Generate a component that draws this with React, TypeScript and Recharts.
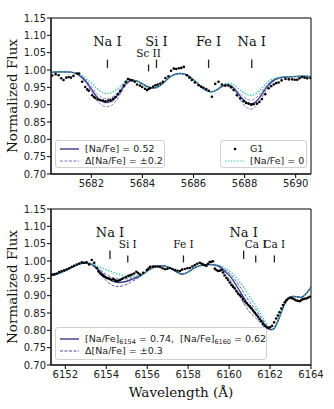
import { ComposedChart, Line, Scatter, XAxis, YAxis, ReferenceLine, ReferenceDot, ReferenceArea } from 'recharts';

// ---- top panel: Na I 5682/5688 ----
const topWave = [5680.4, 5680.8, 5681.2, 5681.5, 5681.8, 5682.0, 5682.2, 5682.4, 5682.6, 5682.8, 5683.0, 5683.2, 5683.4, 5683.6, 5683.8, 5684.0, 5684.2, 5684.4, 5684.6, 5684.8, 5685.0, 5685.2, 5685.45, 5685.7, 5685.9, 5686.1, 5686.3, 5686.5, 5686.7, 5686.9, 5687.1, 5687.3, 5687.5, 5687.7, 5687.9, 5688.1, 5688.25, 5688.4, 5688.6, 5688.8, 5689.0, 5689.2, 5689.5, 5689.9, 5690.3, 5690.6];
const topBest = [0.993, 0.995, 0.994, 0.986, 0.966, 0.945, 0.924, 0.911, 0.906, 0.910, 0.925, 0.946, 0.963, 0.970, 0.968, 0.960, 0.952, 0.948, 0.951, 0.961, 0.975, 0.985, 0.990, 0.987, 0.978, 0.965, 0.951, 0.941, 0.937, 0.942, 0.952, 0.957, 0.952, 0.936, 0.918, 0.905, 0.902, 0.906, 0.922, 0.944, 0.962, 0.973, 0.979, 0.981, 0.982, 0.981];
const topHi = [0.993, 0.995, 0.994, 0.985, 0.962, 0.938, 0.914, 0.899, 0.894, 0.898, 0.915, 0.939, 0.959, 0.969, 0.968, 0.960, 0.952, 0.948, 0.951, 0.961, 0.975, 0.985, 0.990, 0.987, 0.978, 0.965, 0.951, 0.941, 0.937, 0.942, 0.951, 0.955, 0.949, 0.929, 0.906, 0.891, 0.887, 0.892, 0.911, 0.936, 0.957, 0.971, 0.978, 0.981, 0.982, 0.981];
const topLo = [0.993, 0.995, 0.994, 0.987, 0.970, 0.952, 0.933, 0.921, 0.917, 0.921, 0.934, 0.952, 0.966, 0.971, 0.968, 0.960, 0.952, 0.948, 0.951, 0.961, 0.975, 0.985, 0.990, 0.987, 0.978, 0.965, 0.951, 0.941, 0.937, 0.942, 0.953, 0.959, 0.955, 0.941, 0.927, 0.915, 0.913, 0.917, 0.931, 0.950, 0.966, 0.975, 0.980, 0.981, 0.982, 0.981];
const topZero = [0.993, 0.995, 0.994, 0.989, 0.975, 0.963, 0.948, 0.937, 0.932, 0.935, 0.945, 0.958, 0.969, 0.972, 0.968, 0.960, 0.952, 0.948, 0.951, 0.961, 0.975, 0.985, 0.990, 0.987, 0.978, 0.965, 0.951, 0.941, 0.937, 0.942, 0.955, 0.962, 0.960, 0.950, 0.938, 0.929, 0.927, 0.930, 0.942, 0.958, 0.970, 0.976, 0.980, 0.981, 0.982, 0.981];

const topObsWave = [5680.47, 5680.6, 5680.72, 5680.82, 5680.91, 5681.02, 5681.11, 5681.2, 5681.3, 5681.44, 5681.52, 5681.64, 5681.76, 5681.84, 5681.9, 5682.03, 5682.1, 5682.16, 5682.25, 5682.35, 5682.45, 5682.55, 5682.65, 5682.75, 5682.85, 5682.94, 5683.04, 5683.14, 5683.27, 5683.35, 5683.43, 5683.52, 5683.6, 5683.7, 5683.79, 5683.9, 5683.99, 5684.1, 5684.18, 5684.25, 5684.31, 5684.42, 5684.51, 5684.6, 5684.7, 5684.8, 5684.9, 5685.02, 5685.12, 5685.23, 5685.32, 5685.42, 5685.52, 5685.62, 5685.74, 5685.84, 5685.93, 5686.05, 5686.2, 5686.3, 5686.39, 5686.5, 5686.6, 5686.72, 5686.85, 5686.98, 5687.11, 5687.24, 5687.37, 5687.47, 5687.57, 5687.7, 5687.83, 5687.96, 5688.06, 5688.16, 5688.26, 5688.35, 5688.48, 5688.58, 5688.68, 5688.81, 5688.94, 5689.04, 5689.14, 5689.23, 5689.33, 5689.45, 5689.6, 5689.73, 5689.86, 5689.96, 5690.06, 5690.15, 5690.25, 5690.35, 5690.45, 5690.58];
const topObsFlux = [0.984, 0.988, 0.985, 0.976, 0.971, 0.978, 0.980, 0.978, 0.983, 0.990, 0.990, 0.966, 0.951, 0.944, 0.940, 0.927, 0.922, 0.919, 0.915, 0.913, 0.912, 0.910, 0.912, 0.913, 0.917, 0.922, 0.930, 0.939, 0.955, 0.966, 0.974, 0.972, 0.970, 0.966, 0.958, 0.955, 0.951, 0.946, 0.942, 0.945, 0.948, 0.952, 0.956, 0.958, 0.961, 0.966, 0.977, 0.982, 0.998, 1.004, 1.003, 1.005, 1.006, 1.009, 0.985, 0.978, 0.971, 0.964, 0.956, 0.952, 0.949, 0.945, 0.940, 0.923, 0.960, 0.966, 0.958, 0.955, 0.955, 0.950, 0.942, 0.927, 0.918, 0.910, 0.905, 0.903, 0.900, 0.901, 0.903, 0.908, 0.916, 0.930, 0.947, 0.953, 0.958, 0.962, 0.964, 0.970, 0.974, 0.973, 0.973, 0.972, 0.972, 0.976, 0.980, 0.978, 0.976, 0.977];

const topLineNames = ['Na I', 'Sc II', 'Si I', 'Fe I', 'Na I'];
const topLineWave = [5682.63, 5684.24, 5684.55, 5686.59, 5688.28];
const topLineBig = [true, false, true, true, true];

// ---- bottom panel: Na I 6154/6160 ----
const botWave = [6151.3, 6151.6, 6152.0, 6152.4, 6152.8, 6153.1, 6153.4, 6153.7, 6154.0, 6154.3, 6154.6, 6154.9, 6155.2, 6155.5, 6155.8, 6156.1, 6156.4, 6156.8, 6157.1, 6157.4, 6157.7, 6158.0, 6158.3, 6158.7, 6159.1, 6159.5, 6159.8, 6160.1, 6160.4, 6160.7, 6161.0, 6161.3, 6161.6, 6161.9, 6162.1, 6162.3, 6162.5, 6162.7, 6162.9, 6163.1, 6163.3, 6163.5, 6163.7, 6163.85, 6164.0];
const botBest = [0.957, 0.962, 0.972, 0.984, 0.993, 0.994, 0.986, 0.970, 0.953, 0.942, 0.938, 0.940, 0.946, 0.953, 0.963, 0.975, 0.983, 0.986, 0.980, 0.970, 0.962, 0.968, 0.980, 0.988, 0.990, 0.985, 0.970, 0.952, 0.925, 0.896, 0.868, 0.848, 0.826, 0.806, 0.802, 0.815, 0.845, 0.875, 0.892, 0.898, 0.897, 0.895, 0.902, 0.912, 0.925];
const botHi = [0.957, 0.962, 0.972, 0.984, 0.993, 0.994, 0.984, 0.965, 0.943, 0.930, 0.926, 0.930, 0.939, 0.949, 0.961, 0.975, 0.983, 0.986, 0.980, 0.970, 0.962, 0.968, 0.980, 0.988, 0.990, 0.983, 0.962, 0.940, 0.910, 0.880, 0.853, 0.836, 0.817, 0.803, 0.801, 0.815, 0.845, 0.875, 0.892, 0.898, 0.897, 0.895, 0.902, 0.912, 0.925];
const botLo = [0.957, 0.962, 0.972, 0.984, 0.993, 0.994, 0.988, 0.975, 0.961, 0.952, 0.948, 0.948, 0.951, 0.955, 0.963, 0.975, 0.983, 0.986, 0.980, 0.970, 0.962, 0.968, 0.980, 0.988, 0.990, 0.987, 0.975, 0.960, 0.937, 0.910, 0.882, 0.860, 0.834, 0.809, 0.802, 0.815, 0.845, 0.875, 0.892, 0.898, 0.897, 0.895, 0.902, 0.912, 0.925];
const botZero = [0.957, 0.962, 0.972, 0.984, 0.993, 0.994, 0.990, 0.982, 0.975, 0.968, 0.962, 0.957, 0.955, 0.957, 0.963, 0.975, 0.983, 0.986, 0.980, 0.970, 0.962, 0.968, 0.980, 0.988, 0.990, 0.988, 0.978, 0.967, 0.948, 0.925, 0.897, 0.870, 0.842, 0.812, 0.803, 0.815, 0.845, 0.875, 0.892, 0.898, 0.897, 0.895, 0.902, 0.912, 0.925];

const botObsWave = [6151.34, 6151.46, 6151.58, 6151.7, 6151.82, 6151.95, 6152.07, 6152.19, 6152.31, 6152.43, 6152.56, 6152.68, 6152.8, 6152.92, 6153.04, 6153.16, 6153.29, 6153.41, 6153.53, 6153.62, 6153.7, 6153.78, 6153.86, 6153.94, 6154.02, 6154.1, 6154.18, 6154.27, 6154.35, 6154.43, 6154.51, 6154.59, 6154.67, 6154.76, 6154.84, 6154.96, 6155.08, 6155.16, 6155.25, 6155.36, 6155.47, 6155.56, 6155.65, 6155.8, 6155.98, 6156.06, 6156.14, 6156.27, 6156.39, 6156.51, 6156.63, 6156.75, 6156.87, 6156.99, 6157.11, 6157.23, 6157.36, 6157.48, 6157.6, 6157.7, 6157.83, 6157.96, 6158.08, 6158.2, 6158.32, 6158.44, 6158.56, 6158.65, 6158.73, 6158.81, 6158.89, 6158.97, 6159.05, 6159.13, 6159.21, 6159.3, 6159.38, 6159.46, 6159.54, 6159.62, 6159.7, 6159.78, 6159.87, 6159.95, 6160.03, 6160.11, 6160.19, 6160.27, 6160.36, 6160.44, 6160.52, 6160.6, 6160.68, 6160.76, 6160.85, 6160.93, 6161.01, 6161.09, 6161.17, 6161.25, 6161.33, 6161.41, 6161.49, 6161.57, 6161.65, 6161.73, 6161.82, 6161.9, 6162.0, 6162.1, 6162.2, 6162.3, 6162.38, 6162.46, 6162.55, 6162.63, 6162.72, 6162.8, 6162.88, 6162.96, 6163.04, 6163.12, 6163.2, 6163.28, 6163.36, 6163.45, 6163.52, 6163.6, 6163.68, 6163.77, 6163.85, 6163.94];
const botObsFlux = [0.961, 0.962, 0.964, 0.968, 0.971, 0.973, 0.976, 0.979, 0.983, 0.986, 0.990, 0.993, 0.996, 0.995, 0.996, 0.990, 1.003, 0.995, 0.980, 0.970, 0.964, 0.960, 0.957, 0.954, 0.951, 0.950, 0.948, 0.946, 0.948, 0.944, 0.942, 0.943, 0.945, 0.948, 0.951, 0.954, 0.957, 0.959, 0.961, 0.964, 0.969, 0.965, 0.961, 0.966, 0.974, 0.978, 0.983, 0.984, 0.985, 0.984, 0.983, 0.979, 0.976, 0.978, 0.980, 0.977, 0.974, 0.972, 0.971, 0.975, 0.977, 0.979, 0.980, 0.984, 0.988, 0.992, 0.995, 0.993, 0.990, 0.988, 0.986, 0.992, 0.997, 0.998, 0.999, 0.978, 0.974, 0.971, 0.972, 0.974, 0.967, 0.958, 0.951, 0.945, 0.938, 0.931, 0.926, 0.921, 0.913, 0.906, 0.902, 0.897, 0.890, 0.883, 0.878, 0.873, 0.869, 0.864, 0.857, 0.851, 0.845, 0.839, 0.832, 0.826, 0.819, 0.813, 0.809, 0.807, 0.809, 0.813, 0.823, 0.834, 0.843, 0.852, 0.863, 0.873, 0.881, 0.887, 0.891, 0.894, 0.893, 0.892, 0.889, 0.886, 0.885, 0.884, 0.887, 0.890, 0.891, 0.892, 0.894, 0.897];

const botLineNames = ['Na I', 'Si I', 'Fe I', 'Na I', 'Ca I', 'Ca I'];
const botLineWave = [6154.18, 6155.05, 6157.77, 6160.71, 6161.3, 6162.21];
const botLineBig = [true, false, false, true, false, false];

const fluxTicks = [0.7, 0.75, 0.8, 0.85, 0.9, 0.95, 1.0, 1.05, 1.1, 1.15];
const topWaveTicks = [5682, 5684, 5686, 5688, 5690];
const botWaveTicks = [6152, 6154, 6156, 6158, 6160, 6162, 6164];

const NAVY = '#3b3c8c';
const LILAC = '#7474d0';
const BLUE_DASH = '#4848a8';
const TEAL = '#2fc39a';
const SANS = 'DejaVu Sans, sans-serif';
const SERIF = 'DejaVu Serif, serif';

const modelRows = (w: number[], best: number[], hi: number[], lo: number[], zero: number[]) =>
  w.map((x, i) => ({ w: x, best: best[i], hi: hi[i], lo: lo[i], zero: zero[i] }));
const obsRows = (w: number[], f: number[]) => w.map((x, i) => ({ w: x, f: f[i] }));

const topModel = modelRows(topWave, topBest, topHi, topLo, topZero);
const topObs = obsRows(topObsWave, topObsFlux);
const botModel = modelRows(botWave, botBest, botHi, botLo, botZero);
const botObs = obsRows(botObsWave, botObsFlux);

const dotShape = (p: any) => <circle cx={p.cx} cy={p.cy} r={1.3} fill="#000" />;

function labelShape(text: string, big: boolean) {
  return (p: any) => (
    <text x={p.cx} y={p.cy} textAnchor="middle" dominantBaseline="central" fontFamily={SERIF} fontSize={big ? 13 : 10.5} fill="#111">
      {text}
    </text>
  );
}

function Panel(props: {
  model: any[]; obs: any[]; domain: [number, number]; ticks: number[];
  names: string[]; waves: number[]; big: boolean[]; height: number; marginTop: number; xHeight: number;
  dashColor: string; xLabel?: string;
}) {
  const { model, obs, domain, ticks, names, waves, big, height, marginTop, xHeight, dashColor, xLabel } = props;
  return (
    <ComposedChart width={334} height={height} data={model} margin={{ top: marginTop, right: 23, bottom: 0, left: 0 }}>
      <XAxis
        dataKey="w" type="number" domain={domain} ticks={ticks} allowDataOverflow height={xHeight}
        tick={{ fontSize: 10, fontFamily: SANS, fill: '#222' }} tickSize={4} tickMargin={2}
        axisLine={{ stroke: '#000' }} tickLine={{ stroke: '#000' }}
        label={xLabel ? { value: xLabel, position: 'insideBottom', offset: 12, style: { fontFamily: SERIF, fontSize: 13.5, fill: '#111' } } : undefined}
      />
      <YAxis
        type="number" domain={[0.7, 1.15]} ticks={fluxTicks} allowDataOverflow width={51}
        tickFormatter={(v: number) => v.toFixed(2)}
        tick={{ fontSize: 10, fontFamily: SANS, fill: '#222' }} tickSize={4} tickMargin={1}
        axisLine={{ stroke: '#000' }} tickLine={{ stroke: '#000' }}
        label={{ value: 'Normalized Flux', angle: -90, position: 'insideLeft', offset: 12, style: { textAnchor: 'middle', fontFamily: SERIF, fontSize: 13.5, fill: '#111' } }}
      />
      <ReferenceArea x1={domain[0]} x2={domain[1]} y1={0.7} y2={1.15} fill="none" stroke="#000" strokeWidth={1} />
      <Line dataKey="hi" type="monotone" stroke={dashColor} strokeWidth={0.9} strokeDasharray="3 1.5" dot={false} activeDot={false} isAnimationActive={false} />
      <Line dataKey="lo" type="monotone" stroke={dashColor} strokeWidth={0.9} strokeDasharray="3 1.5" dot={false} activeDot={false} isAnimationActive={false} />
      <Line dataKey="best" type="monotone" stroke={NAVY} strokeWidth={1.4} dot={false} activeDot={false} isAnimationActive={false} />
      <Line dataKey="zero" type="monotone" stroke={TEAL} strokeWidth={1.4} strokeDasharray="1.3 1.6" dot={false} activeDot={false} isAnimationActive={false} />
      <Scatter data={obs} dataKey="f" shape={dotShape} isAnimationActive={false} />
      {waves.map((w, i) => (
        <ReferenceLine
          key={'t' + i}
          segment={big[i] ? [{ x: w, y: 1.006 }, { x: w, y: 1.03 }] : [{ x: w, y: 0.996 }, { x: w, y: 1.016 }]}
          stroke="#222" strokeWidth={1.3}
        />
      ))}
      {waves.map((w, i) => (
        <ReferenceDot key={'l' + i} x={w} y={big[i] ? 1.082 : 1.05} r={0} shape={labelShape(names[i], big[i])} />
      ))}
    </ComposedChart>
  );
}

function Swatch(props: { kind: 'solid' | 'dash' | 'dot' | 'point'; color: string }) {
  const { kind, color } = props;
  return (
    <svg width={22} height={8} style={{ position: 'absolute', left: 3, top: -4 }}>
      {kind === 'point' ? (
        <circle cx={11} cy={4} r={1.3} fill="#000" />
      ) : (
        <line x1={1} y1={4} x2={20} y2={4} stroke={color} strokeWidth={kind === 'solid' ? 1.4 : 1.2}
          strokeDasharray={kind === 'dash' ? '3 1.5' : kind === 'dot' ? '1.3 1.6' : undefined} />
      )}
    </svg>
  );
}

function LegendBox(props: { left: number; top: number; width: number; height: number; rows: { y: number; kind: any; color: string; text: any }[] }) {
  const { left, top, width, height, rows } = props;
  return (
    <div style={{
      position: 'absolute', left, top, width, height, boxSizing: 'border-box',
      border: '1px solid #d0d0d0', borderRadius: 3, background: 'rgba(255,255,255,0.85)',
      fontFamily: SANS, fontSize: 9.5, color: '#222',
    }}>
      {rows.map((r, i) => (
        <div key={i} style={{ position: 'absolute', left: 0, top: r.y, width: '100%' }}>
          <Swatch kind={r.kind} color={r.color} />
          <span style={{ position: 'absolute', left: 29, top: -6, whiteSpace: 'nowrap', lineHeight: '12px' }}>{r.text}</span>
        </div>
      ))}
    </div>
  );
}

const subStyle = { fontSize: 6.5, position: 'relative' as const, top: 2, lineHeight: 0 };

export default function App() {
  return (
    <div style={{ position: 'absolute', left: 0, top: 0, width: 334, height: 409, background: '#fff' }}>
      <div style={{ position: 'absolute', left: 0, top: 0 }}>
        <Panel model={topModel} obs={topObs} domain={[5680.42, 5690.6]} ticks={topWaveTicks}
          names={topLineNames} waves={topLineWave} big={topLineBig}
          height={192} marginTop={18} xHeight={18} dashColor={LILAC} />
      </div>
      <div style={{ position: 'absolute', left: 0, top: 200 }}>
        <Panel model={botModel} obs={botObs} domain={[6151.3, 6164]} ticks={botWaveTicks}
          names={botLineNames} waves={botLineWave} big={botLineBig}
          height={209} marginTop={9} xHeight={44} dashColor={BLUE_DASH} xLabel="Wavelength (Å)" />
      </div>
      <LegendBox left={55} top={140} width={110} height={28} rows={[
        { y: 8, kind: 'solid', color: NAVY, text: '[Na/Fe] = 0.52' },
        { y: 19.5, kind: 'dash', color: LILAC, text: 'Δ[Na/Fe] = ±0.2' },
      ]} />
      <LegendBox left={220} top={140} width={87} height={28} rows={[
        { y: 8, kind: 'point', color: '#000', text: 'G1' },
        { y: 19.5, kind: 'dot', color: TEAL, text: '[Na/Fe] = 0' },
      ]} />
      <LegendBox left={55} top={327} width={212} height={33} rows={[
        { y: 11, kind: 'solid', color: NAVY, text: <>[Na/Fe]<span style={subStyle}>6154</span> = 0.74,&nbsp; [Na/Fe]<span style={subStyle}>6160</span> = 0.62</> },
        { y: 22.5, kind: 'dash', color: BLUE_DASH, text: 'Δ[Na/Fe] = ±0.3' },
      ]} />
    </div>
  );
}
